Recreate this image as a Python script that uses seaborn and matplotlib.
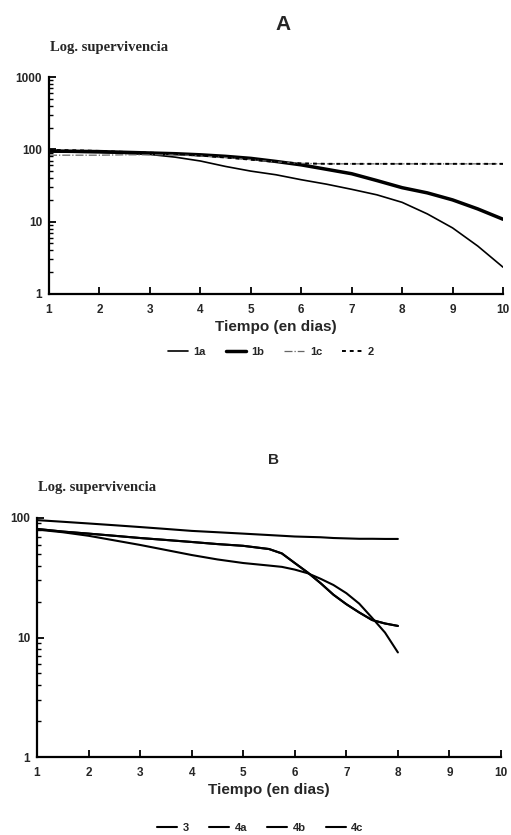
import numpy as np
import pandas as pd
import matplotlib
matplotlib.use("Agg")
import matplotlib.pyplot as plt
import seaborn as sns
from matplotlib.ticker import LogLocator, FixedLocator, FixedFormatter, NullFormatter

sns.set_style("ticks", {"xtick.direction": "in", "ytick.direction": "in"})
plt.rcParams['font.family'] = ['Liberation Sans', 'DejaVu Sans']

# --- panel A data ---
days_a = [1, 1.5, 2, 2.5, 3, 3.5, 4, 4.5, 5, 5.5, 6, 6.5, 7, 7.5, 8, 8.5, 9, 9.5, 10]
s1a = [92, 91, 90, 88, 85, 78, 69, 58, 50, 44.5, 38, 33, 28, 23.5, 18.5, 12.8, 8.2, 4.6, 2.35]
s1b = [95, 94, 93, 91, 89, 87, 84, 80, 75, 68, 61, 53, 46, 37, 29.5, 25, 20, 15, 10.8]
s1c = [83, 83, 83, 84, 84, 84, 81, 77, 72, 67, 64, 63, 63, 63, 63, 63, 63, 63, 63]
s2 = [98, 97, 95, 92, 90, 87, 82, 77, 72, 67, 64, 63, 63, 63, 63, 63, 63, 63, 63]
labels_a = ['1a', '1b', '1c', '2']

# --- panel B data ---
days_b = [1, 1.5, 2, 2.5, 3, 3.5, 4, 4.5, 5, 5.5, 5.75, 6, 6.25, 6.5, 6.75, 7, 7.25, 7.5, 7.75, 8]
s3 = [96, 93, 90, 87, 84, 81, 78, 76, 74, 72, 71, 70, 69.5, 69, 68, 67.5, 67, 67, 66.8, 66.8]
s4a = [80, 76, 71, 65, 59.5, 54, 49, 45, 42, 40, 39, 37, 34.5, 31, 27.5, 23.5, 19.2, 14.6, 11, 7.5]
s4b = [81, 77, 74, 71, 68, 65.5, 63, 60.5, 58.5, 55, 50.5, 42, 35, 28.5, 22.8, 19, 16.2, 14, 13.1, 12.5]
s4c = s4b
labels_b = ['3', '4a', '4b', '4c']

day_ticks = [1, 2, 3, 4, 5, 6, 7, 8, 9, 10]

W, H = 511, 835
fig = plt.figure(figsize=(W / 100, H / 100), dpi=100)

def px_axes(l, r, t, b):
    return fig.add_axes([l / W, 1 - b / H, (r - l) / W, (b - t) / H])

ax_a = px_axes(49, 503, 77, 294)
ax_b = px_axes(37, 501, 518, 757)

def style_axis(ax, ylim, yticks):
    ax.set_yscale('log')
    ax.set_xlim(1, 10)
    ax.set_ylim(*ylim)
    sns.despine(ax=ax)
    for sp in ['left', 'bottom']:
        ax.spines[sp].set_linewidth(1.6)
        ax.spines[sp].set_color('black')
    ax.xaxis.set_major_locator(FixedLocator(day_ticks))
    ax.set_xticklabels([str(d) for d in day_ticks], fontsize=8.5, fontweight='bold')
    ax.yaxis.set_major_locator(FixedLocator(yticks))
    ax.yaxis.set_major_formatter(FixedFormatter([str(v) for v in yticks]))
    ax.yaxis.set_minor_locator(LogLocator(base=10, subs=np.arange(2, 10)))
    ax.yaxis.set_minor_formatter(NullFormatter())
    for lab in ax.get_yticklabels():
        lab.set_fontweight('bold')
        lab.set_fontsize(8.5)
    ax.tick_params(axis='x', which='major', direction='in', length=5, width=1.3, color='black', pad=7)
    ax.tick_params(axis='y', which='major', direction='in', length=5, width=1.3, color='black', pad=5)
    ax.tick_params(axis='y', which='minor', direction='in', length=3, width=1.0, color='black')
    ax.set_xlabel('Tiempo (en dias)', fontsize=11, fontweight='bold', labelpad=3)
    ax.set_ylabel('')
    ax.grid(False)

legend_kw = dict(loc='center', ncol=4, frameon=False, handlelength=1.8, columnspacing=1.8,
                 handletextpad=0.5, prop={'weight': 'bold', 'size': 8})

# panel A
df_a = pd.DataFrame({'dia': days_a, '1a': s1a, '1b': s1b, '1c': s1c, '2': s2})
sns.lineplot(data=df_a, x='dia', y='1a', ax=ax_a, color='black', lw=1.2, label='1a')
sns.lineplot(data=df_a, x='dia', y='1b', ax=ax_a, color='black', lw=2.5, label='1b')
sns.lineplot(data=df_a, x='dia', y='1c', ax=ax_a, color='#666666', lw=0.9, linestyle='-.', label='1c')
sns.lineplot(data=df_a, x='dia', y='2', ax=ax_a, color='black', lw=1.4, linestyle=(0, (2, 2)), label='2')
style_axis(ax_a, (1, 1000), [1, 10, 100, 1000])
h, l = ax_a.get_legend_handles_labels()
ax_a.get_legend().remove()
fig.legend(h, l, bbox_to_anchor=(0.53, 1 - 352 / H), **legend_kw)
fig.text(283 / W, 1 - 25 / H, 'A', ha='center', va='center', fontsize=15, fontweight='bold')
fig.text(50 / W, 1 - 47 / H, 'Log. supervivencia', ha='left', va='center', fontsize=10.5,
         fontweight='bold', family=['Liberation Serif', 'DejaVu Serif'])

# panel B
df_b = pd.DataFrame({'dia': days_b, '3': s3, '4a': s4a, '4b': s4b, '4c': s4c})
for name in labels_b:
    sns.lineplot(data=df_b, x='dia', y=name, ax=ax_b, color='black', lw=1.5, label=name)
style_axis(ax_b, (1, 100), [1, 10, 100])
h, l = ax_b.get_legend_handles_labels()
ax_b.get_legend().remove()
fig.legend(h, l, bbox_to_anchor=(0.51, 1 - 828 / H), **legend_kw)
fig.text(273 / W, 1 - 460 / H, 'B', ha='center', va='center', fontsize=11, fontweight='bold')
fig.text(38 / W, 1 - 487 / H, 'Log. supervivencia', ha='left', va='center', fontsize=10.5,
         fontweight='bold', family=['Liberation Serif', 'DejaVu Serif'])

fig.savefig('out.png', dpi=100)
